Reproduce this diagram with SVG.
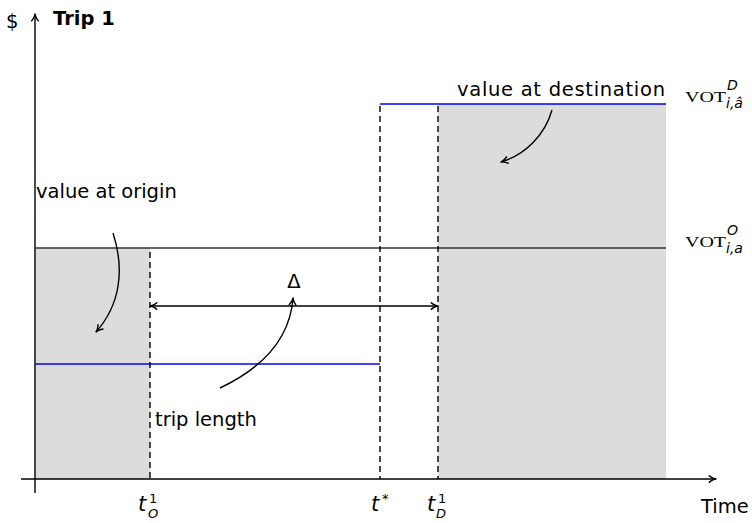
<svg xmlns="http://www.w3.org/2000/svg" width="752" height="523" viewBox="0 0 752 523">
<style>
.t{font-family:"DejaVu Sans","Liberation Sans",sans-serif;font-size:19.5px;fill:#000}
.s{font-family:"Liberation Serif",serif;font-size:15px;fill:#000}
.i{font-family:"DejaVu Sans","Liberation Sans",sans-serif;font-style:italic;fill:#000}
.ln{stroke:#000;stroke-width:1.4;fill:none}
.d{stroke:#000;stroke-width:1.4;stroke-dasharray:6,4;fill:none}
.b{stroke:#0000ff;stroke-width:1.5;fill:none}
</style>
<defs>
<marker id="ah" viewBox="0 0 10 10" refX="9" refY="5" markerWidth="9" markerHeight="9" orient="auto-start-reverse" markerUnits="userSpaceOnUse">
<path d="M1,1 Q6,5 9.5,5 Q6,5 1,9" stroke="#000" stroke-width="1.6" fill="none"/>
</marker>
</defs>
<g id="areas">
<rect x="35" y="248" width="115" height="231" fill="#dcdcdc"/>
<rect x="438" y="104" width="228" height="375" fill="#dcdcdc"/>
</g>
<g id="connectors">
<line class="ln" x1="35" y1="493" x2="35" y2="14" marker-end="url(#ah)"/>
<line class="ln" x1="21" y1="479" x2="716" y2="479" marker-end="url(#ah)"/>
<line x1="35" y1="248" x2="666" y2="248" stroke="#333" stroke-width="1.4"/>
<line class="b" x1="380" y1="104" x2="666" y2="104"/>
<line class="b" x1="35" y1="364" x2="380" y2="364"/>
<line class="d" x1="150" y1="252" x2="150" y2="479"/>
<line class="d" x1="380" y1="106" x2="380" y2="479"/>
<line class="d" x1="438" y1="106" x2="438" y2="479"/>
<line class="ln" x1="150" y1="306" x2="438" y2="306" marker-start="url(#ah)" marker-end="url(#ah)"/>
<path class="ln" d="M220,388 C262,368 290,340 293,298" marker-end="url(#ah)"/>
<path class="ln" d="M113,233 C125,270 120,305 96,332" marker-end="url(#ah)"/>
<path class="ln" d="M552,110 C545,135 525,155 501,162" marker-end="url(#ah)"/>
</g>
<g id="labels">
<text class="t" x="6" y="28">$</text>
<text class="t" x="53" y="25" font-weight="bold" font-size="21.5">Trip 1</text>
<text class="t" x="36" y="198">value at origin</text>
<text class="t" x="457" y="96" textLength="208">value at destination</text>
<text class="t" x="155" y="426">trip length</text>
<text class="t" x="294" y="288" font-size="21" text-anchor="middle">Δ</text>
<text class="t" x="701" y="513">Time</text>
<text class="s" x="685" y="102"><tspan textLength="41" lengthAdjust="spacingAndGlyphs">VOT</tspan><tspan class="i" font-size="14" x="727" y="90">D</tspan><tspan class="i" font-size="14" x="726" y="108">i,â</tspan></text>
<text class="s" x="685" y="247"><tspan textLength="41" lengthAdjust="spacingAndGlyphs">VOT</tspan><tspan class="i" font-size="14" x="727" y="235">O</tspan><tspan class="i" font-size="14" x="726" y="253">i,a</tspan></text>
<text class="i" x="138" y="511" font-size="21">t<tspan font-size="13" font-style="normal" x="149" y="503">1</tspan><tspan font-size="13" x="148" y="518">O</tspan></text>
<text class="i" x="371" y="511" font-size="21">t<tspan font-size="13" font-style="normal" x="382" y="503">*</tspan></text>
<text class="i" x="427" y="511" font-size="21">t<tspan font-size="13" font-style="normal" x="438" y="503">1</tspan><tspan font-size="13" x="436" y="518">D</tspan></text>
</g>
</svg>
